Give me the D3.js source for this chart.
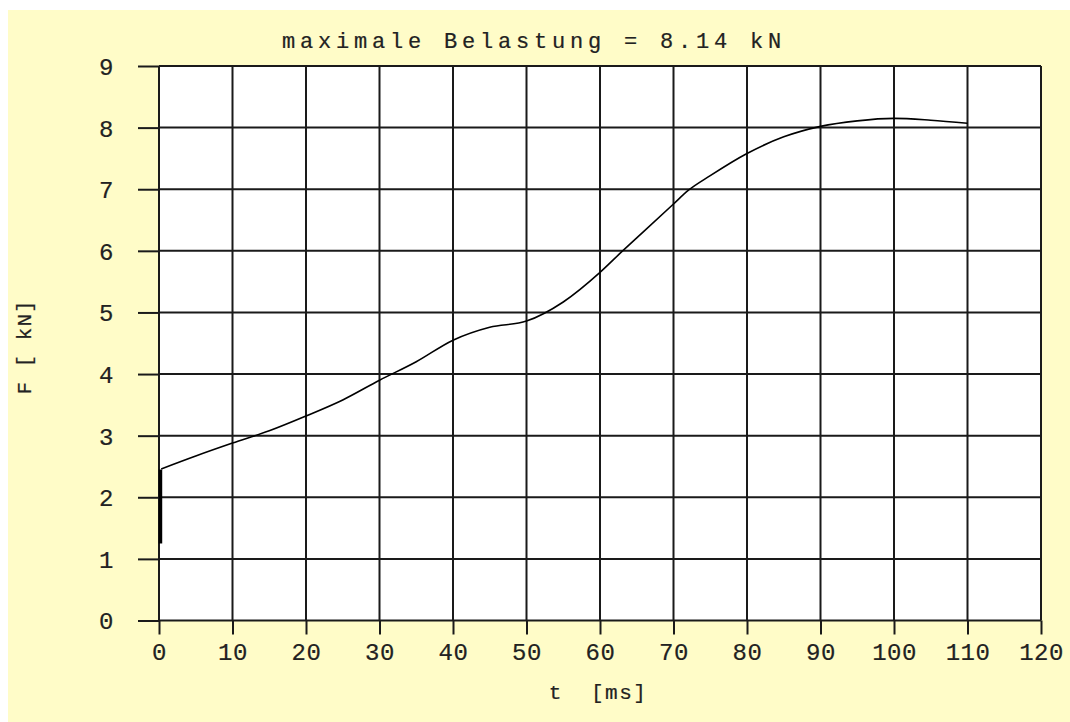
<!DOCTYPE html>
<html><head><meta charset="utf-8">
<script src="https://cdn.jsdelivr.net/npm/d3@7"></script>
<style>
html,body{margin:0;padding:0;background:#fff;}
text{font-family:"Liberation Mono","Courier New",monospace;fill:#222;stroke:#222;stroke-width:0.2px;white-space:pre;}
</style></head>
<body>
<svg id="c" width="1070" height="722"></svg>
<script>
const title = "maximale Belastung = 8.14 kN";
const xLabel = "t  [ms]";
const yLabel = "F [ kN]";
const xTicks = [0,10,20,30,40,50,60,70,80,90,100,110,120];
const yTicks = [0,1,2,3,4,5,6,7,8,9];
// initial rise at t ≈ 0
const riseT = [0.2, 0.2];
const riseF = [1.25, 2.45];
// main curve
const timeMs = [0.3,5,10,15,20,25,30,35,40,45,50,55,60,63,66,70,72,75,80,85,90,95,100,105,110];
const forceKN = [2.46,2.67,2.88,3.08,3.32,3.58,3.9,4.2,4.55,4.76,4.86,5.17,5.65,5.99,6.32,6.76,6.98,7.22,7.58,7.85,8.02,8.11,8.15,8.12,8.07];

const svg = d3.select("#c");
svg.append("rect").attr("x",8).attr("y",10).attr("width",1062).attr("height",712).attr("fill","#fffcc8");

const x = d3.scaleLinear().domain([0,120]).range([159,1041]);
const y = d3.scaleLinear().domain([0,9]).range([620.5,66]);

svg.append("rect").attr("x",x(0)).attr("y",y(9)).attr("width",x(120)-x(0)).attr("height",y(0)-y(9)).attr("fill","#ffffff");

const gridColor = "#1a1a1a";
// grid
svg.append("g").selectAll("line").data(xTicks).join("line")
  .attr("x1",d=>x(d)).attr("x2",d=>x(d)).attr("y1",y(9)).attr("y2",y(0))
  .attr("stroke",gridColor).attr("stroke-width",2);
svg.append("g").selectAll("line").data(yTicks).join("line")
  .attr("x1",x(0)).attr("x2",x(120)).attr("y1",d=>y(d)).attr("y2",d=>y(d))
  .attr("stroke",gridColor).attr("stroke-width",2);

// axes
const yAxis = d3.axisLeft(y).tickValues(yTicks).tickSize(21).tickPadding(24).tickFormat(d3.format("d"));
const gy = svg.append("g").attr("transform",`translate(${x(0)},0)`).call(yAxis);
const xAxis = d3.axisBottom(x).tickValues(xTicks).tickSize(14).tickPadding(8).tickFormat(d3.format("d"));
const gx = svg.append("g").attr("transform",`translate(0,${y(0)})`).call(xAxis);
[gx,gy].forEach(g=>{
  g.select(".domain").remove();
  g.selectAll(".tick line").attr("stroke",gridColor).attr("stroke-width",2);
  g.selectAll(".tick text").attr("font-family","Liberation Mono").attr("font-size",24)
    .attr("fill","#222").style("letter-spacing","0.5px");
});
gy.selectAll(".tick text").attr("dy","0.35em");

// curve
const line = d3.line().x(d=>x(d[0])).y(d=>y(d[1])).curve(d3.curveMonotoneX);
svg.append("path").datum(timeMs.map((t,i)=>[t,forceKN[i]]))
  .attr("d",line).attr("fill","none").attr("stroke","#000").attr("stroke-width",1.6);
svg.append("path").datum(riseT.map((t,i)=>[t,riseF[i]]))
  .attr("d",d3.line().x(d=>x(d[0])).y(d=>y(d[1]))).attr("fill","none").attr("stroke","#000").attr("stroke-width",3.5);

// labels
svg.append("text").attr("x",282).attr("y",48).attr("font-size",22).style("letter-spacing","4.8px").text(title);
svg.append("text").attr("x",598).attr("y",699).attr("text-anchor","middle").attr("font-size",21).style("letter-spacing","1.5px").text(xLabel);
svg.append("text").attr("transform","translate(31,347) rotate(-90)").attr("text-anchor","middle").attr("font-size",21).style("letter-spacing","1px").text(yLabel);
</script>
</body></html>
